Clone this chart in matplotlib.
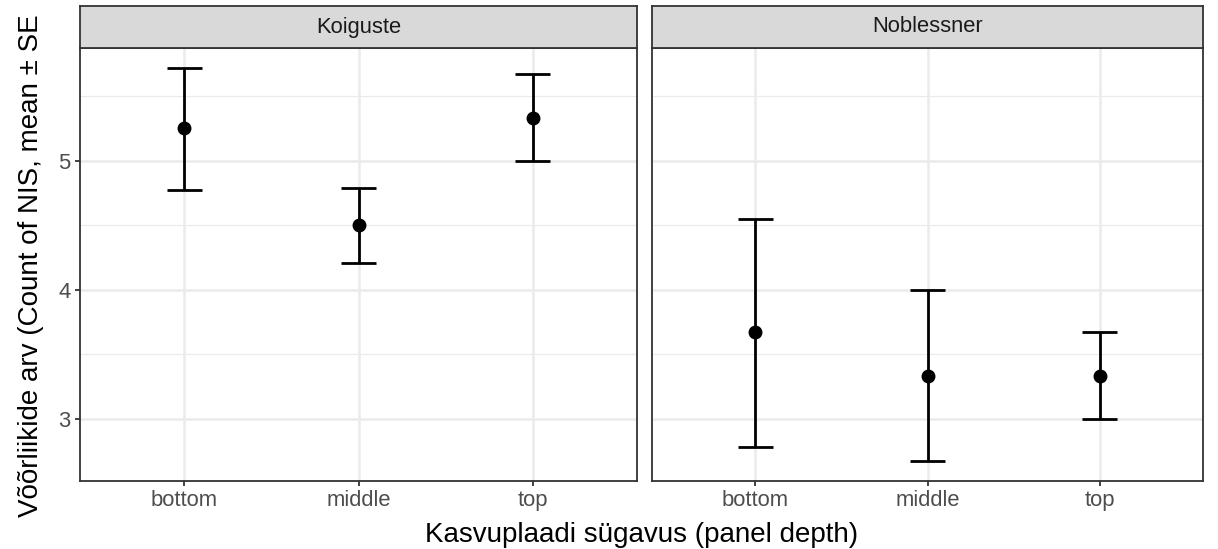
import matplotlib.pyplot as plt

plt.rcParams['font.family'] = ['Liberation Sans', 'DejaVu Sans']

# Data: mean and SE bounds per site and depth
sites = ["Koiguste", "Noblessner"]
depths = ["bottom", "middle", "top"]
koiguste_mean = [5.25, 4.50, 5.33]
koiguste_lower = [4.77, 4.21, 5.00]
koiguste_upper = [5.72, 4.79, 5.67]
noblessner_mean = [3.67, 3.33, 3.33]
noblessner_lower = [2.78, 2.67, 3.00]
noblessner_upper = [4.55, 4.00, 3.67]
y_ticks = [3, 4, 5]

means = [koiguste_mean, noblessner_mean]
lowers = [koiguste_lower, noblessner_lower]
uppers = [koiguste_upper, noblessner_upper]

W, H = 1218, 549
fig = plt.figure(figsize=(W / 100, H / 100), dpi=100)

grid_col = "#EBEBEB"
border_col = "#333333"
text_col = "#4D4D4D"

panel_left = [80, 652]
panel_w = [557, 551]
panel_top, panel_bot, strip_top = 48, 481, 6

# y range with ggplot-style 5% expansion
lo = min(min(l) for l in lowers)
hi = max(max(u) for u in uppers)
pad = (hi - lo) * 0.05

for i, site in enumerate(sites):
    ax = fig.add_axes([panel_left[i] / W, 1 - panel_bot / H,
                       panel_w[i] / W, (panel_bot - panel_top) / H])
    x = list(range(1, len(depths) + 1))
    ax.set_xlim(0.4, 3.6)
    ax.set_ylim(lo - pad, hi + pad)

    # grid lines
    for yv in y_ticks:
        ax.axhline(yv, color=grid_col, lw=1.8, zorder=0)
    for yv in [2.5, 3.5, 4.5, 5.5]:
        ax.axhline(yv, color=grid_col, lw=0.9, zorder=0)
    for xv in x:
        ax.axvline(xv, color=grid_col, lw=1.8, zorder=0)

    # error bars and means
    cap = 0.1
    ax.vlines(x, lowers[i], uppers[i], color="black", lw=2.0, zorder=2)
    ax.hlines(lowers[i], [v - cap for v in x], [v + cap for v in x],
              color="black", lw=2.0, zorder=2)
    ax.hlines(uppers[i], [v - cap for v in x], [v + cap for v in x],
              color="black", lw=2.0, zorder=2)
    ax.plot(x, means[i], "o", color="black", ms=9, zorder=3)

    ax.set_xticks(x)
    ax.set_xticklabels(depths)
    ax.set_yticks(y_ticks)
    if i == 0:
        ax.set_yticklabels([str(v) for v in y_ticks])
    else:
        ax.tick_params(axis="y", left=False, labelleft=False)
    ax.tick_params(colors=border_col, labelcolor=text_col, labelsize=15.8,
                   length=3.8, width=1.3, pad=3)
    for s in ax.spines.values():
        s.set_color(border_col)
        s.set_linewidth(1.3)

    # facet strip
    sax = fig.add_axes([panel_left[i] / W, 1 - panel_top / H,
                        panel_w[i] / W, (panel_top - strip_top) / H])
    sax.set_xticks([])
    sax.set_yticks([])
    sax.set_facecolor("#D9D9D9")
    for s in sax.spines.values():
        s.set_color(border_col)
        s.set_linewidth(1.3)
    sax.text(0.5, 0.5, site, ha="center", va="center", fontsize=15.8,
             color="#1A1A1A", transform=sax.transAxes)

fig.text(642 / W, 1 - 535 / H, "Kasvuplaadi sügavus (panel depth)",
         ha="center", va="center", fontsize=20, color="black")
fig.text(31 / W, 1 - 266 / H, "Võõrliikide arv (Count of NIS, mean ± SE",
         ha="center", va="center", rotation=90, fontsize=20, color="black")

fig.savefig("out.png", dpi=100, facecolor="white")
